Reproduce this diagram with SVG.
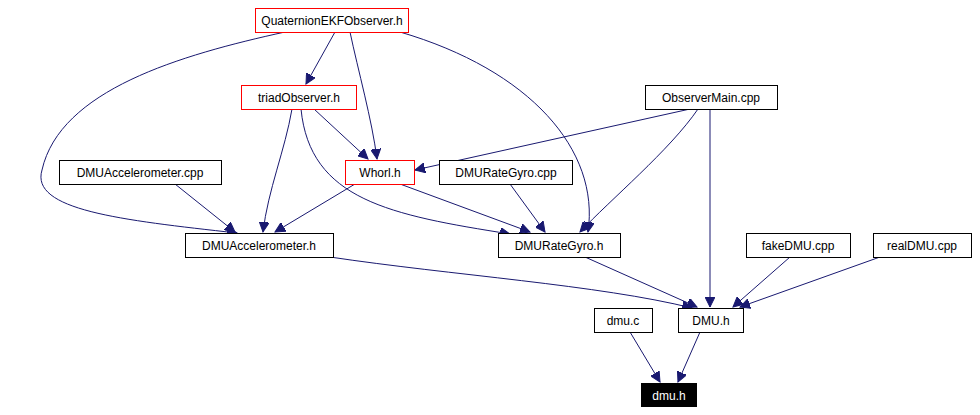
<svg xmlns="http://www.w3.org/2000/svg" width="980" height="415" viewBox="0 0 980 415">
<style>
.n rect{fill:#fff;stroke:#000;stroke-width:1}
.r rect{stroke:#f00}
text{font-family:"Liberation Sans",Arial,sans-serif;font-size:12px;text-anchor:middle;fill:#000}
.e path{fill:none;stroke:#191970;stroke-width:1;marker-end:url(#a)}
</style>
<defs><marker id="a" markerUnits="userSpaceOnUse" markerWidth="11" markerHeight="10" refX="10" refY="5" orient="auto"><path d="M0,0L10,5L0,10z" fill="#191970" stroke="#191970"/></marker></defs>
<rect width="980" height="415" fill="#fff"/>
<g class="e">
<path d="M335,32L306,84"/>
<path d="M350,32C358,70 372,120 377,159"/>
<path d="M400,32C530,70 600,150 588,232"/>
<path d="M285,32C180,55 60,90 42,170C30,210 120,220 237,233"/>
<path d="M314,109L368,159"/>
<path d="M292,109C285,150 268,190 263,232"/>
<path d="M301,109C310,200 390,215 510,234"/>
<path d="M690,109L415,170"/>
<path d="M698,109C670,150 610,200 580,232"/>
<path d="M710,109L710,307"/>
<path d="M175,184L235,232"/>
<path d="M355,184L275,232"/>
<path d="M400,184L530,232"/>
<path d="M510,184L545,232"/>
<path d="M330,257C450,275 600,285 692,308"/>
<path d="M585,257L697,307"/>
<path d="M790,257L733,307"/>
<path d="M880,257L740,307"/>
<path d="M630,332L660,382"/>
<path d="M700,332L678,382"/>
</g>
<g id="QuaternionEKFObserver" class="n r"><rect x="255.500" y="8.500" width="153" height="24"/><text x="332" y="25">QuaternionEKFObserver.h</text></g>
<g id="triadObserver" class="n r"><rect x="241.500" y="85.500" width="115" height="24"/><text x="299" y="102">triadObserver.h</text></g>
<g id="ObserverMain" class="n"><rect x="645.500" y="85.500" width="132" height="24"/><text x="711" y="102">ObserverMain.cpp</text></g>
<g id="DMUAccelerometerCpp" class="n"><rect x="59.500" y="160.500" width="162" height="24"/><text x="140" y="177">DMUAccelerometer.cpp</text></g>
<g id="Whorl" class="n r"><rect x="345.500" y="160.500" width="69" height="24"/><text x="380" y="177">Whorl.h</text></g>
<g id="DMURateGyroCpp" class="n"><rect x="439.500" y="160.500" width="133" height="24"/><text x="506" y="177">DMURateGyro.cpp</text></g>
<g id="DMUAccelerometerH" class="n"><rect x="185.500" y="233.500" width="148" height="24"/><text x="259" y="250">DMUAccelerometer.h</text></g>
<g id="DMURateGyroH" class="n"><rect x="498.500" y="233.500" width="122" height="24"/><text x="559" y="250">DMURateGyro.h</text></g>
<g id="fakeDMU" class="n"><rect x="746.500" y="233.500" width="104" height="24"/><text x="798" y="250">fakeDMU.cpp</text></g>
<g id="realDMU" class="n"><rect x="873.500" y="233.500" width="98" height="24"/><text x="922" y="250">realDMU.cpp</text></g>
<g id="dmuc" class="n"><rect x="594.500" y="308.500" width="58" height="24"/><text x="623" y="325">dmu.c</text></g>
<g id="DMUH" class="n"><rect x="678.500" y="308.500" width="65" height="24"/><text x="711" y="325">DMU.h</text></g>
<g id="dmuh"><rect x="641" y="383" width="56" height="24" fill="#000"/><text x="669" y="400" fill="#fff" style="fill:#fff">dmu.h</text></g>
</svg>
